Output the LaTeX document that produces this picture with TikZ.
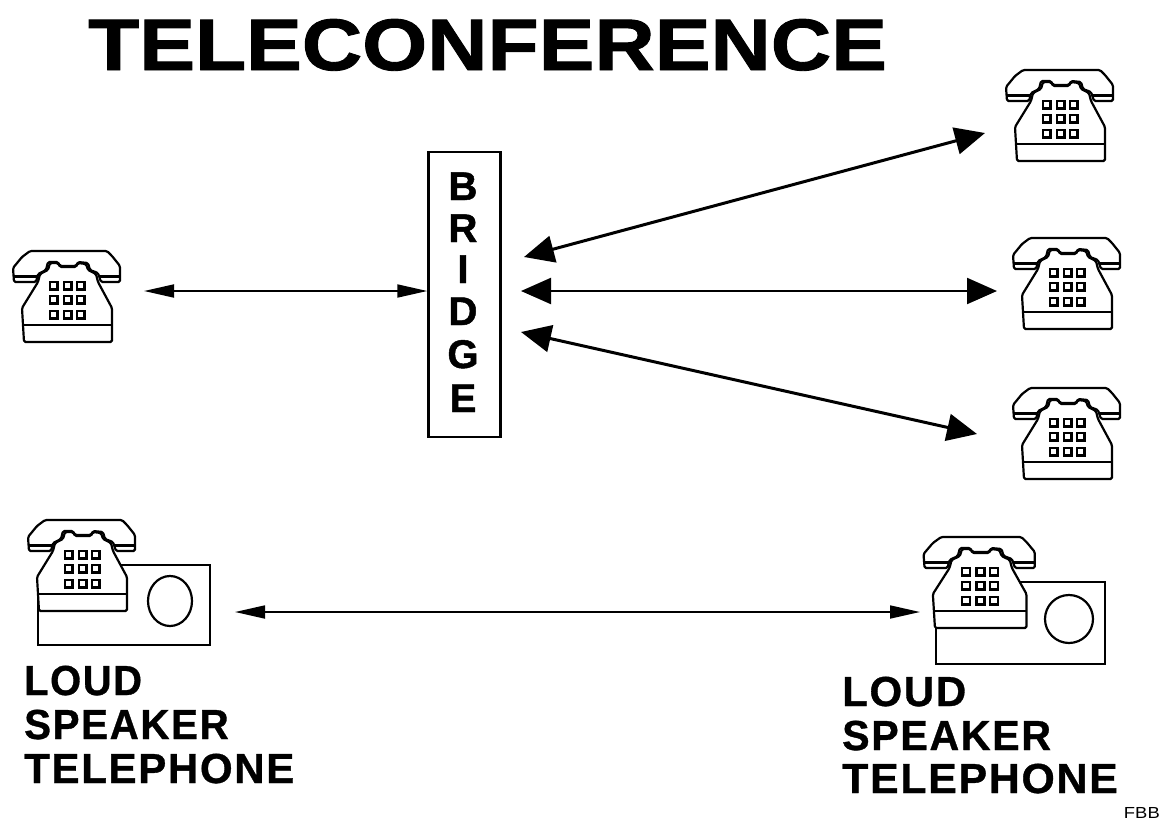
\documentclass[tikz,border=0pt]{standalone}
\usepackage{fontspec}
\setmainfont{Liberation Sans}
\newfontfamily\heavy[FakeBold=1.2]{Liberation Sans Bold}
\newfontfamily\wideb[LetterSpace=4,FakeBold=0.8]{Liberation Sans Bold}
\usetikzlibrary{arrows.meta,shapes.geometric}
\tikzset{
  phoneline/.style={draw=black,line width=2.2pt,line join=round,rounded corners=1.5pt},
  keyb/.style={draw=black,line width=2.6pt},
  thin arrow/.style={line width=1.8pt,{Triangle[length=30pt,width=13pt]}-{Triangle[length=30pt,width=13pt]}},
  big arrow/.style={line width=3pt,{Triangle[length=30pt,width=27pt]}-{Triangle[length=30pt,width=27pt]}},
  mid arrow/.style={line width=2.2pt,{Triangle[length=30pt,width=26pt]}-{Triangle[length=30pt,width=26pt]}},
  bridgebox/.style={draw=black,line width=2.4pt,minimum width=72pt,minimum height=285pt,inner sep=0pt},
  capt/.style={anchor=base west,inner sep=0pt,transform shape,font=\fontsize{42}{42}\selectfont\wideb},
  speakerline/.style={draw=black,line width=2.2pt},
  phone/.pic={
    \path[phoneline,fill=white] (30,21)--(107,21)--(112,26)--(120,36)--(120,52)--(101,52)--(98,43)--(90,40)--(88,33)--(78,32)--(76,36)--(60,36)--(58,32)--(48,32)--(46,40)--(38,44)--(36,52)--(14,52)--(13,38)--(22,27)--cycle;
    \path[phoneline,fill=white] (38,52)--(22,78)--(24,112)--(112,112)--(112,78)--(98,52)--(96,44)--(88,40)--(86,34)--(78,33)--(76,37)--(60,37)--(58,33)--(50,33)--(48,40)--(40,44)--cycle;
    \draw[line width=3pt] (14,46)--(37,46) (100,46)--(120,46);
    \draw[line width=2.6pt] (24,95)--(112,95);
    \foreach \x in {50,64,77}\foreach \y in {52,66,81}{\draw[keyb] (\x,\y) rectangle ++(7.5,7.5);}
  }
}
\begin{document}
\begin{tikzpicture}[x=1pt,y=-1pt]
\useasboundingbox (0,0) rectangle (1163,820);
\node[anchor=base west,inner sep=0pt,xscale=1.145,transform shape,font=\fontsize{73}{73}\selectfont\heavy] (title) at (88,70) {TELECONFERENCE};
\node[bridgebox] (bridge) at (464.5,294.5) {};
\foreach \l/\y in {B/200,R/242,I/283,D/325,G/368,E/412}{\node[inner sep=0pt,anchor=base,font=\fontsize{40}{40}\selectfont\heavy] (l\l) at (463,\y) {\l};}

\pic at (0,230) {phone};
\pic at (993,49) {phone};
\pic at (1000,217) {phone};
\pic at (1000,367) {phone};

\coordinate (spkLa) at (100,565);
\coordinate (spkLb) at (210,645);
\coordinate (spkLc) at (38,600);
\draw[speakerline] (spkLa) -| (spkLb) -| (spkLc);
\node[speakerline,ellipse,minimum width=44pt,minimum height=50pt,inner sep=0pt] (coneL) at (170,601) {};
\pic at (15,499) {phone};
\coordinate (spkRa) at (1000,582);
\coordinate (spkRb) at (1105,664);
\coordinate (spkRc) at (936,620);
\draw[speakerline] (spkRa) -| (spkRb) -| (spkRc);
\node[speakerline,ellipse,minimum width=48pt,minimum height=48pt,inner sep=0pt] (coneR) at (1069,619) {};
\pic[xscale=1.04] at (910,516) {phone};

\coordinate (a1) at (144,291);
\coordinate (c1) at (524,257);
\coordinate (c2) at (521,291);
\coordinate (c3) at (521,332);
\coordinate (t1) at (985,133);
\coordinate (t2) at (997,291);
\coordinate (t3) at (977,434);
\coordinate (s1) at (235,612);
\coordinate (s2) at (920,612);
\draw[thin arrow] (a1) -- (a1-|bridge.west);
\draw[big arrow] (c1) -- (t1);
\draw[mid arrow] (c2) -- (t2);
\draw[big arrow] (c3) -- (t3);
\draw[thin arrow] (s1) -- (s2);

\node[capt,xscale=.95] (capL1) at (24,695) {LOUD};
\node[capt,xscale=.96] (capL2) at (24,739) {SPEAKER};
\node[capt] (capL3) at (24,783) {TELEPHONE};
\node[capt] (capR1) at (842,706) {LOUD};
\node[capt,xscale=.98] (capR2) at (842,750) {SPEAKER};
\node[capt,xscale=1.02] (capR3) at (842,793) {TELEPHONE};
\node[anchor=base east,inner sep=0pt,xscale=1.15,transform shape,font=\fontsize{16}{16}\selectfont] (fbb) at (1160,818) {FBB};
\end{tikzpicture}
\end{document}
